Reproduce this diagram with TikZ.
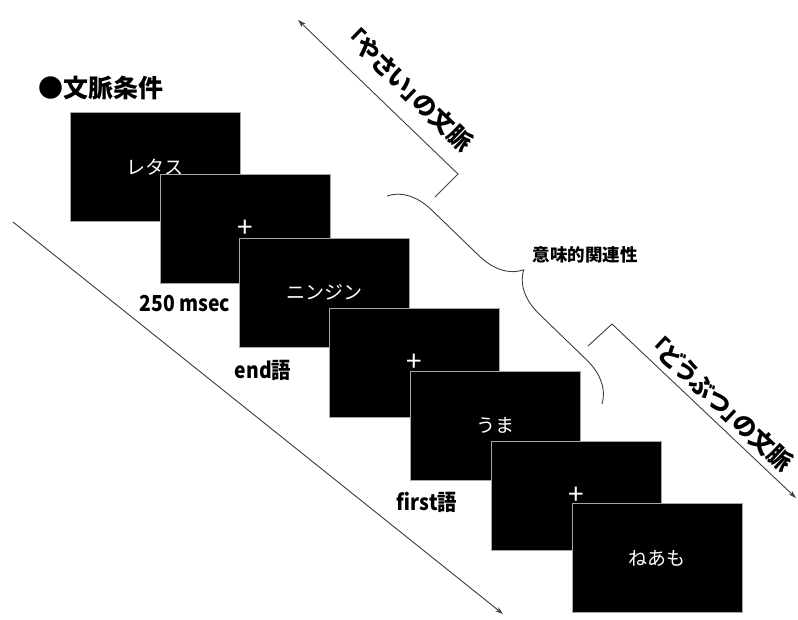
\documentclass[tikz,border=0pt]{standalone}
\usepackage{fontspec}
\setmainfont{Noto Sans CJK JP}
\newfontfamily\paltfont[RawFeature=+palt]{Noto Sans CJK JP}
\newfontfamily\narrowjp[FakeStretch=0.88]{Noto Sans CJK JP}
\usetikzlibrary{arrows.meta,decorations.pathreplacing}
\begin{document}
\begin{tikzpicture}[x=1pt,y=-1pt,
  scr/.style={draw=gray!70, line width=0.8pt, fill=black, minimum width=170pt, minimum height=109pt, inner sep=0pt, text=white, font=\fontsize{19}{19}\selectfont},
  plussign/.style={text=white, font=\fontsize{28}{28}\selectfont, inner sep=0pt},
  lbl/.style={font=\narrowjp\bfseries\fontsize{22}{22}\selectfont, inner sep=0pt},
  ctx/.style={font=\paltfont\bfseries\fontsize{24}{24}\selectfont, inner sep=0pt, rotate=-44},
  guide/.style={draw=black!75, line width=0.9pt},
  tipend/.style={-{Stealth[length=8pt,width=5pt]}}
]
\fill[white] (0,0) rectangle (798,620);
\useasboundingbox (0,0) rectangle (798,620);

% title
\node[font=\bfseries\fontsize{25}{25}\selectfont, inner sep=0pt] (title) at (101,88) {●文脈条件};

% long time arrow
\coordinate (la) at (13,222);
\coordinate (lb) at (503,614);
\draw[guide, tipend] (la) -- (lb);

% screens
\node[scr] (b1) at (155,167) {レタス};
\node[scr] (b2) at (245,229) {};
\node[plussign] (p2) at (b2.center) {+};
\node[scr] (b3) at (324.5,292.5) {ニンジン};
\node[scr] (b4) at (414.5,362.5) {};
\node[plussign] (p4) at (b4.center) {+};
\node[scr] (b5) at (495.5,425.5) {うま};
\node[scr] (b6) at (576,496) {};
\node[plussign] (p6) at (b6.center) {+};
\node[scr] (b7) at (657,558) {ねあも};

% labels
\node[lbl] (t250) at (185,304) {250 msec};
\node[lbl] (tend) at (263,370) {end語};
\node[lbl] (tfirst) at (427,502) {first語};

% context bracket: yasai
\coordinate (ya) at (298,20);
\coordinate (yb) at (458,174);
\coordinate (yc) at (435,197);
\draw[guide, tipend] (yc) -- (yb) -- (ya);
\node[ctx] (tyasai) at (410,90) {「やさい」の文脈};

% context bracket: doubutsu
\coordinate (da) at (588,346);
\coordinate (db) at (612,324);
\coordinate (dc) at (796,498);
\draw[guide, tipend] (da) -- (db) -- (dc);
\node[ctx, rotate=1] (tdoubutsu) at (722,404) {「どうぶつ」の文脈};

% brace
\coordinate (br1) at (387,196);
\coordinate (br2) at (602,404);
\draw[guide, decorate, decoration={brace, amplitude=42pt}] (br1) -- (br2);
\node[font=\bfseries\fontsize{17.5}{17.5}\selectfont, inner sep=0pt] (rel) at (585,255) {意味的関連性};
\end{tikzpicture}
\end{document}
